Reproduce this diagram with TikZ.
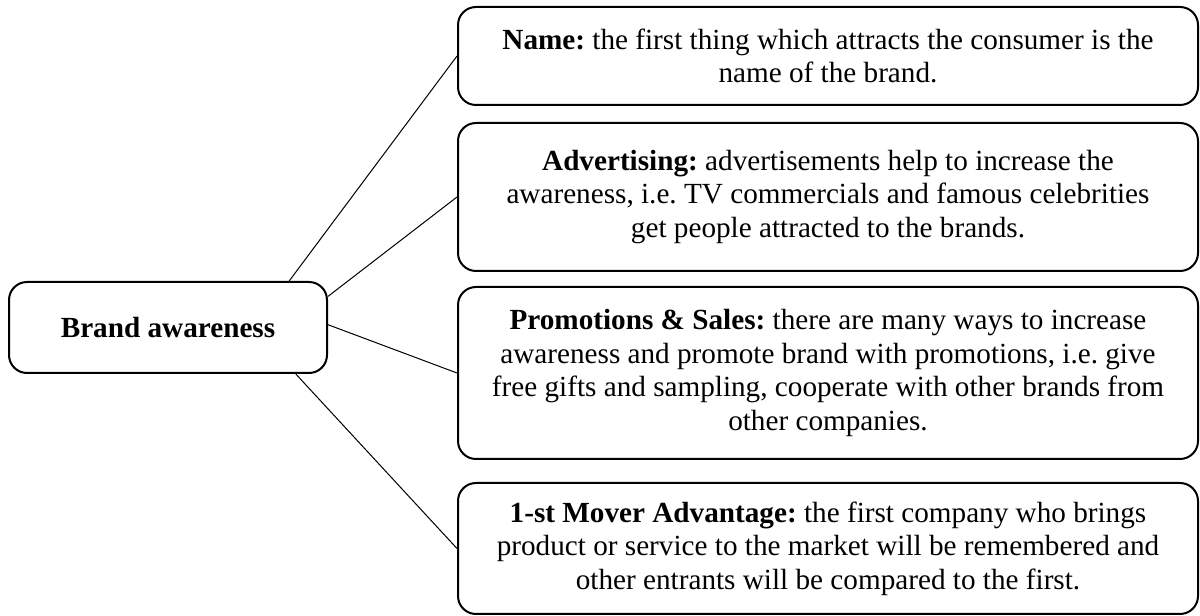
\documentclass[tikz,border=0pt]{standalone}
\usepackage{fontspec}
\setmainfont{Liberation Serif}
\usetikzlibrary{positioning}
\frenchspacing
\tikzset{
    boxnode/.style = {align=center, inner sep=0pt, text centered, draw=black, line width=1pt, rounded corners=9pt, font=\fontsize{14.6}{16.8}\selectfont\frenchspacing},
    root_node/.style = {boxnode, minimum width=159pt, minimum height=45.5pt},
    leaf_node/.style = {boxnode, minimum width=370pt},
    link/.style = {-, line width=0.5pt}
}

\begin{document}
\begin{tikzpicture}
            [-, x=1pt, y=1pt]

            \useasboundingbox (0,0) rectangle (600,308);

            % left box
            \node (brand) [root_node] at (84,144.25) {\textbf{Brand awareness}};

            % right boxes
            \node (name) [leaf_node, minimum height=49pt] at (414,280)
                {\textbf{Name:} the first thing which attracts the consumer is the\\
                 name of the brand.};
            \node (advert) [leaf_node, minimum height=74pt] at (414,209.5)
                {\textbf{Advertising:} advertisements help to increase the\\
                 awareness, i.e. TV commercials and famous celebrities\\
                 get people attracted to the brands.};
            \node (promo) [leaf_node, minimum height=86pt] at (414,121.5)
                {\textbf{Promotions \& Sales:} there are many ways to increase\\
                 awareness and promote brand with promotions, i.e. give\\
                 free gifts and sampling, cooperate with other brands from\\
                 other companies.};
            \node (mover) [leaf_node, minimum height=65.5pt] at (414,33.75)
                {\textbf{1-st Mover Advantage:} the first company who brings\\
                 product or service to the market will be remembered and\\
                 other entrants will be compared to the first.};

            \draw [link] (brand.21) -- (name.west);
            \draw [link] (brand.11) -- (advert.west);
            \draw [link] (brand.1) -- (promo.west);
            \draw [link] (brand.-20) -- (mover.west);
        \end{tikzpicture}
\end{document}
